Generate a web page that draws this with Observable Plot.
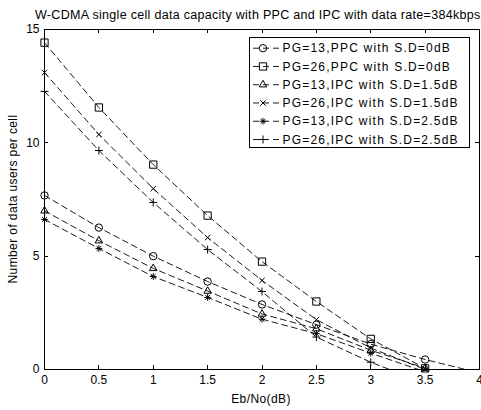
<!DOCTYPE html>
<html><head><meta charset="utf-8">
<script src="https://cdn.jsdelivr.net/npm/d3@7"></script>
<script src="https://cdn.jsdelivr.net/npm/@observablehq/plot@0.6"></script>
<style>html,body{margin:0;padding:0;background:#fff;overflow:hidden}</style>
</head><body><div id="chart"></div>
<script>
// ---- data ----
const ebno = [0, 0.5, 1, 1.5, 2, 2.5, 3, 3.5, 4];
const seriesNames = [
  "PG=13,PPC with S.D=0dB",
  "PG=26,PPC with S.D=0dB",
  "PG=13,IPC with S.D=1.5dB",
  "PG=26,IPC with S.D=1.5dB",
  "PG=13,IPC with S.D=2.5dB",
  "PG=26,IPC with S.D=2.5dB"
];
const pg13ppc   = [7.68, 6.26, 5.00, 3.88, 2.87, 1.98, 1.12, 0.44, -0.15];
const pg26ppc   = [14.42, 11.56, 9.04, 6.79, 4.76, 3.00, 1.35, 0.05, -1.30];
const pg13ipc15 = [7.00, 5.68, 4.46, 3.46, 2.45, 1.80, 0.85, 0.06, -0.70];
const pg26ipc15 = [13.10, 10.37, 7.98, 5.82, 3.93, 2.20, 0.95, 0.00, -0.90];
const pg13ipc25 = [6.62, 5.34, 4.10, 3.18, 2.22, 1.58, 0.72, -0.10, -0.80];
const pg26ipc25 = [12.27, 9.66, 7.37, 5.29, 3.44, 1.43, 0.32, -0.60, -1.50];
const xTicks = [0, 0.5, 1, 1.5, 2, 2.5, 3, 3.5, 4];
const yTicks = [0, 5, 10, 15];
const titleText = "W-CDMA single cell data capacity with PPC and IPC with data rate=384kbps";
const xLabel = "Eb/No(dB)";
const yLabel = "Number of data users per cell";

// ---- build table ----
const allValues = [pg13ppc, pg26ppc, pg13ipc15, pg26ipc15, pg13ipc25, pg26ipc25];
const rows = [];
seriesNames.forEach((name, i) => ebno.forEach((x, j) => rows.push({series: name, x, y: allValues[i][j]})));

// ---- styles (symbol lists per series) ----
const markerStyles = [
  [{symbol: "circle", r: 3.7}],
  [{symbol: "square", r: 4.1}],
  [{symbol: "triangle", r: 2.8}],
  [{symbol: "times", r: 2.6}],
  [{symbol: "plus", r: 2.3}, {symbol: "times", r: 2.3}],
  [{symbol: "plus", r: 2.7}]
];
const d3Sym = {circle: d3.symbolCircle, square: d3.symbolSquare, triangle: d3.symbolTriangle, times: d3.symbolTimes, plus: d3.symbolPlus};

const dotMarks = [];
seriesNames.forEach((name, i) => {
  markerStyles[i].forEach(st => {
    dotMarks.push(Plot.dot(rows.filter(d => d.series === name && d.y >= 0), {
      x: "x", y: "y", symbol: () => st.symbol, r: st.r, stroke: "#000", fill: "none", strokeWidth: 1
    }));
  });
});

const chart = Plot.plot({
  width: 481, height: 410,
  marginTop: 29, marginBottom: 41, marginLeft: 44, marginRight: 2,
  style: {fontFamily: "'Liberation Sans', Arial, sans-serif", fontSize: "12px", background: "#fff", color: "#000"},
  x: {domain: [0, 4], ticks: xTicks},
  y: {domain: [0, 15], ticks: yTicks},
  marks: [
    Plot.axisX({anchor: "bottom", ticks: xTicks, tickSize: 0, tickPadding: 6, label: null, tickFormat: d => String(d)}),
    Plot.axisY({anchor: "left", ticks: yTicks, tickSize: 0, tickPadding: 5, label: null, tickFormat: d => String(d)}),
    Plot.line(rows, {x: "x", y: "y", z: "series", stroke: "#000", strokeWidth: 0.9, strokeDasharray: "6,4", clip: true}),
    ...dotMarks,
    Plot.frame({stroke: "#000"})
  ]
});
document.getElementById("chart").appendChild(chart);

const svg = d3.select(chart);
const font = "'Liberation Sans', Arial, sans-serif";
const sx = chart.scale("x"), sy = chart.scale("y");
const [yb, yt] = sy.range;     // bottom, top pixels
const [xl, xr] = sx.range;     // left, right pixels

// inward tick marks on all four sides, placed through Plot's scales
const tg = svg.append("g").attr("stroke", "#000").attr("stroke-width", 1);
xTicks.forEach(v => {
  const px = Math.round(sx.apply(v)) + 0.5;
  tg.append("line").attr("x1", px).attr("x2", px).attr("y1", yb).attr("y2", yb - 4);
  tg.append("line").attr("x1", px).attr("x2", px).attr("y1", yt).attr("y2", yt + 4);
});
yTicks.forEach(v => {
  const py = Math.round(sy.apply(v)) + 0.5;
  tg.append("line").attr("x1", xl).attr("x2", xl + 4).attr("y1", py).attr("y2", py);
  tg.append("line").attr("x1", xr).attr("x2", xr - 4).attr("y1", py).attr("y2", py);
});

svg.append("text").attr("x", 35).attr("y", 19).attr("text-anchor", "start").attr("font-family", font).attr("font-size", 12.5)
  .attr("letter-spacing", 0.3).attr("fill", "#000").text(titleText);
svg.append("text").attr("x", 261).attr("y", 402.5).attr("text-anchor", "middle").attr("font-family", font)
  .attr("font-size", 12).attr("letter-spacing", 0.4).attr("fill", "#000").text(xLabel);
svg.append("text").attr("transform", "translate(16.5,199) rotate(-90)").attr("text-anchor", "middle")
  .attr("font-family", font).attr("font-size", 12).attr("letter-spacing", 0.4).attr("fill", "#000").text(yLabel);

// legend
const lg = svg.append("g");
lg.append("rect").attr("x", 249.5).attr("y", 37.5).attr("width", 220).attr("height", 110)
  .attr("fill", "#fff").attr("stroke", "#000");
seriesNames.forEach((name, i) => {
  const cy = 48.2 + i * 18.26;
  lg.append("line").attr("x1", 253).attr("x2", 279).attr("y1", cy).attr("y2", cy)
    .attr("stroke", "#000").attr("stroke-width", 0.9).attr("stroke-dasharray", "6,4");
  markerStyles[i].forEach(st => {
    lg.append("path").attr("transform", `translate(263,${cy})`)
      .attr("d", d3.symbol(d3Sym[st.symbol], Math.PI * st.r * st.r)())
      .attr("fill", "none").attr("stroke", "#000");
  });
  lg.append("text").attr("x", 282.5).attr("y", cy + 4.2).attr("text-anchor", "start").attr("font-family", font).attr("font-size", 12)
    .attr("letter-spacing", 1.2).attr("fill", "#000").text(name);
});
</script></body></html>
